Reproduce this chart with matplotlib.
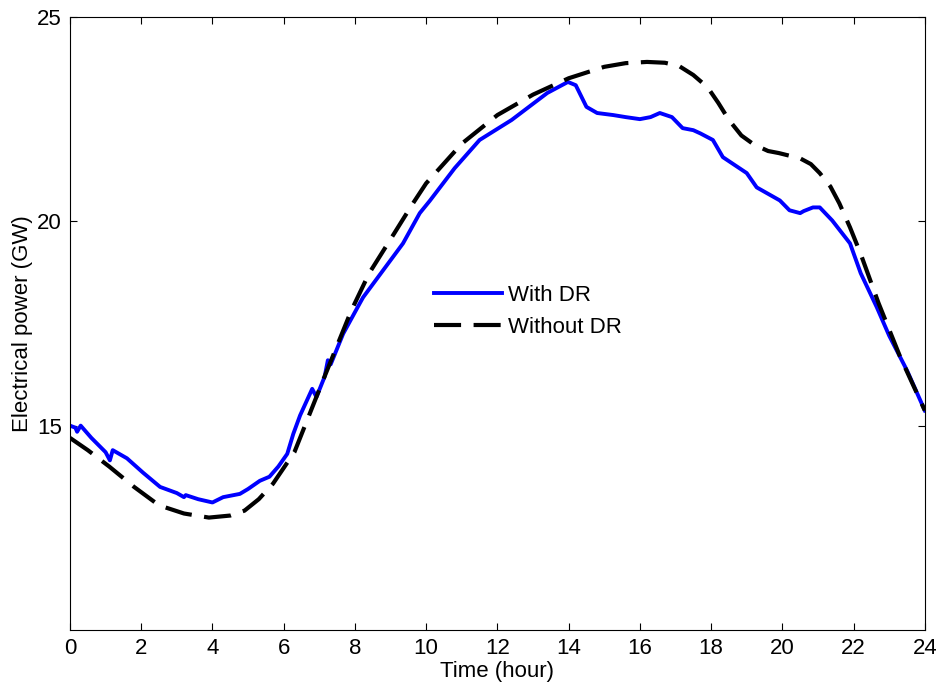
import matplotlib
matplotlib.use("Agg")
from matplotlib import pyplot as plt

# time (hour) and load (GW)
t_nodr = [0, 0.5, 1.1, 1.8, 2.5, 3.2, 3.9, 4.5, 4.9, 5.3, 5.7, 6.3, 7.1, 7.9,
          8.4, 9.1, 9.6, 10.0, 11.0, 12.0, 13.0, 14.0, 15.0, 15.6, 16.2, 16.7,
          17.1, 17.5, 17.9, 18.2, 18.5, 18.85, 19.2, 19.6, 19.9, 20.5, 20.8,
          21.05, 21.35, 21.6, 21.9, 22.2, 22.7, 23.3, 24.0]
p_nodr = [14.7, 14.4, 14.0, 13.5, 13.05, 12.85, 12.75, 12.8, 12.92, 13.2, 13.58,
          14.35, 16.1, 17.82, 18.73, 19.7, 20.4, 20.93, 21.9, 22.6, 23.1, 23.5,
          23.78, 23.87, 23.9, 23.88, 23.8, 23.58, 23.28, 22.9, 22.48, 22.1,
          21.88, 21.72, 21.67, 21.54, 21.4, 21.18, 20.85, 20.44, 19.85, 19.2,
          18.0, 16.7, 15.37]

t_dr = [0, 0.15, 0.2, 0.3, 0.6, 1.0, 1.12, 1.2, 1.6, 2.05, 2.53, 3.0, 3.2, 3.25,
        3.6, 4.0, 4.3, 4.77, 5.0, 5.33, 5.6, 5.85, 6.1, 6.27, 6.46, 6.8, 6.92,
        7.15, 7.24, 7.32, 7.67, 8.14, 8.23, 8.79, 9.35, 9.82, 10.1, 10.8, 11.5,
        12.4, 13.4, 13.98, 14.2, 14.5, 14.8, 15.25, 15.6, 16.0, 16.3, 16.56,
        16.9, 17.2, 17.5, 17.7, 18.05, 18.33, 19.0, 19.28, 19.93, 20.2, 20.5,
        20.6, 20.86, 21.05, 21.4, 21.9, 22.2, 22.65, 23.0, 23.5, 24.0]
p_dr = [15.0, 14.95, 14.85, 15.0, 14.7, 14.35, 14.15, 14.4, 14.2, 13.85, 13.5,
        13.35, 13.25, 13.3, 13.2, 13.12, 13.25, 13.33, 13.45, 13.65, 13.75, 14.0,
        14.31, 14.8, 15.25, 15.9, 15.7, 16.2, 16.6, 16.5, 17.25, 18.0, 18.14,
        18.8, 19.46, 20.2, 20.5, 21.3, 21.99, 22.48, 23.14, 23.41, 23.33, 22.8,
        22.65, 22.6, 22.55, 22.5, 22.55, 22.65, 22.55, 22.28, 22.23, 22.15,
        21.99, 21.57, 21.18, 20.83, 20.51, 20.27, 20.2, 20.25, 20.34, 20.34,
        20.02, 19.46, 18.73, 17.9, 17.2, 16.35, 15.37]

plt.rcParams["font.family"] = ["Liberation Sans", "DejaVu Sans"]
fontsize = 16

fig = plt.figure(figsize=(9.37, 6.9), dpi=100)
ax = fig.add_axes([0.0747, 0.087, 0.9123, 0.8884])

ax.plot(t_dr, p_dr, color="blue", linewidth=2.8, label="With DR")
ax.plot(t_nodr, p_nodr, color="black", linewidth=3.0, dashes=(6.5, 3),
        label="Without DR")

ax.set_xlim(0, 24)
ax.set_ylim(10, 25)
ax.set_xticks(range(0, 25, 2))
ax.set_yticks([15, 20, 25])
ax.tick_params(direction="in", top=True, right=True, length=5,
               labelsize=fontsize, pad=6)
ax.set_xlabel("Time (hour)", fontsize=fontsize, labelpad=1)
ax.set_ylabel("Electrical power (GW)", fontsize=fontsize, labelpad=3)

ax.legend(loc="center", bbox_to_anchor=(0.536, 0.52), frameon=False,
          fontsize=fontsize, handlelength=3.05, handletextpad=0.3,
          labelspacing=0.5)

fig.savefig("out.png", dpi=100)
